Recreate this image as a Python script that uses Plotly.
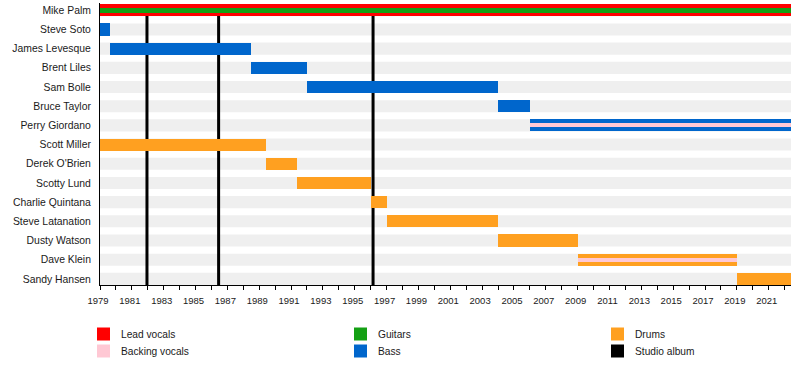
import plotly.graph_objects as go

members = ["Mike Palm", "Steve Soto", "James Levesque", "Brent Liles", "Sam Bolle",
           "Bruce Taylor", "Perry Giordano", "Scott Miller", "Derek O'Brien",
           "Scotty Lund", "Charlie Quintana", "Steve Latanation", "Dusty Watson",
           "Dave Klein", "Sandy Hansen"]
START = 1979
END = 2022.4

lead_names = ["Mike Palm"]
lead_start = [1979]
lead_end = [END]

guitar_names = ["Mike Palm"]
guitar_start = [1979]
guitar_end = [END]

bass_names = ["Steve Soto", "James Levesque", "Brent Liles", "Sam Bolle", "Bruce Taylor", "Perry Giordano"]
bass_start = [1979, 1979.6, 1988.5, 1992.0, 2004.0, 2006.0]
bass_end = [1979.6, 1988.5, 1992.0, 2004.0, 2006.0, END]

drum_names = ["Scott Miller", "Derek O'Brien", "Scotty Lund", "Charlie Quintana",
              "Steve Latanation", "Dusty Watson", "Dave Klein", "Sandy Hansen"]
drum_start = [1979, 1989.4, 1991.4, 1996.0, 1997.0, 2004.0, 2009.0, 2019.0]
drum_end = [1989.4, 1991.4, 1996.0, 1997.0, 2004.0, 2009.0, 2019.0, END]

backing_names = ["Perry Giordano", "Dave Klein"]
backing_start = [2006.0, 2009.0]
backing_end = [END, 2019.0]

album_years = [1981.95, 1986.45, 1996.15]

C_LEAD = "#ff0000"
C_BACK = "#ffc8d4"
C_GUIT = "#14a014"
C_BASS = "#0066cc"
C_DRUM = "#ffa020"
C_BAND = "#efefef"
C_TEXT = "#1a1a1a"

FONT = "Liberation Sans, Arial, sans-serif"

fig = go.Figure()

def add_bars(names, s, e, color, width):
    fig.add_trace(go.Bar(
        y=names, x=[b - a for a, b in zip(s, e)], base=s, orientation="h",
        width=width, marker=dict(color=color, line=dict(width=0)),
        showlegend=False, hoverinfo="skip"))

W = 0.63
WT = 0.24
add_bars(lead_names, lead_start, lead_end, C_LEAD, W)
add_bars(bass_names, bass_start, bass_end, C_BASS, W)
add_bars(drum_names, drum_start, drum_end, C_DRUM, W)
add_bars(guitar_names, guitar_start, guitar_end, C_GUIT, WT)
add_bars(backing_names, backing_start, backing_end, C_BACK, 0.2)

shapes = []
for i in range(len(members)):
    shapes.append(dict(type="rect", xref="x", yref="y", x0=START, x1=END,
                       y0=i - W / 2, y1=i + W / 2, fillcolor=C_BAND,
                       line=dict(width=0), layer="below"))
for yr in album_years:
    shapes.append(dict(type="line", xref="x", yref="y", x0=yr, x1=yr,
                       y0=len(members) - 1 + 0.33, y1=0,
                       line=dict(color="black", width=3), layer="below"))

# legend
PX0, PX1, PY0, PY1 = 100, 791, 3, 285
def px(x):
    return (x - PX0) / (PX1 - PX0)
def py(y):
    return (PY1 - y) / (PY1 - PY0)

legend_items = [("Lead vocals", C_LEAD, 97, 334), ("Backing vocals", C_BACK, 97, 351),
                ("Guitars", C_GUIT, 354, 334), ("Bass", C_BASS, 354, 351),
                ("Drums", C_DRUM, 611, 334), ("Studio album", "black", 611, 351)]
annotations = []
for label, color, x, y in legend_items:
    shapes.append(dict(type="rect", xref="paper", yref="paper",
                       x0=px(x), x1=px(x + 13), y0=py(y - 6.5), y1=py(y + 6.5),
                       fillcolor=color, line=dict(width=0)))
    annotations.append(dict(xref="paper", yref="paper", x=px(x + 22), y=py(y + 0.5),
                            text=label, showarrow=False, xanchor="left", yanchor="middle",
                            font=dict(family=FONT, size=10.2, color=C_TEXT)))

fig.update_layout(
    width=800, height=375,
    margin=dict(l=PX0, r=800 - PX1, t=PY0, b=375 - PY1),
    paper_bgcolor="white", plot_bgcolor="white",
    barmode="overlay", bargap=0,
    shapes=shapes, annotations=annotations,
    font=dict(family=FONT, size=10.4, color=C_TEXT),
    xaxis=dict(range=[START, END], tick0=1979, dtick=2, ticks="outside", ticklen=4,
               tickcolor="black", showline=True, linecolor="black", linewidth=1,
               showgrid=False, zeroline=False, automargin=False, ticklabelshift=-2,
               ticklabelstandoff=3,
               minor=dict(dtick=1, tick0=1979, ticks="outside", ticklen=4, tickcolor="black", showgrid=False),
               tickfont=dict(family=FONT, size=9.5, color=C_TEXT)),
    yaxis=dict(type="category", categoryorder="array", categoryarray=members,
               range=[len(members) - 1 + 0.32, -0.38], autorange=False,
               showline=True, linecolor="black", linewidth=1, ticks="",
               showgrid=False, zeroline=False, ticklabelstandoff=6, automargin=False,
               tickfont=dict(family=FONT, size=10.4, color=C_TEXT)),
)

fig.write_html("out.html", config={"displayModeBar": False},
               post_script="document.body.style.margin='0px';")
